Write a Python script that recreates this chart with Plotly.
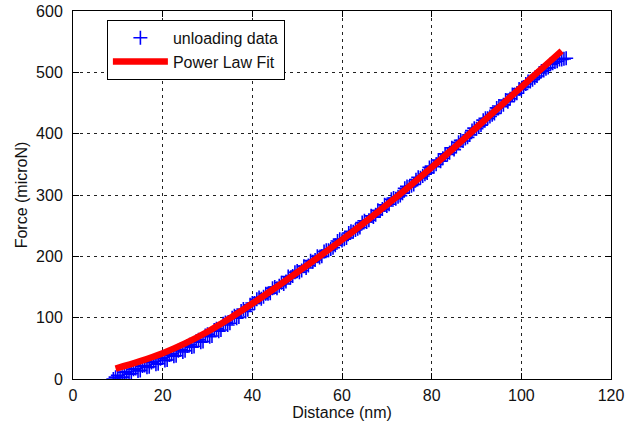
import plotly.graph_objects as go

# Measured unloading curve: indentation depth (nm) vs. force (microN)
unload_distance = [
    9, 9.5, 10, 10.5, 11, 11.5, 12, 12.5, 13, 13.5, 14, 14.5, 15, 15.5, 16, 16.5,
    17, 17.5, 18, 18.5, 19, 19.5, 20, 20.5, 21, 21.5, 22, 22.5, 23, 23.5, 24, 24.5,
    25, 25.5, 26, 26.5, 27, 27.5, 28, 28.5, 29, 29.5, 30, 30.5, 31, 31.5, 32, 32.5,
    33, 33.5, 34, 34.5, 35, 35.5, 36, 36.5, 37, 37.5, 38, 38.5, 39, 39.5, 40, 40.5,
    41, 41.5, 42, 42.5, 43, 43.5, 44, 44.5, 45, 45.5, 46, 46.5, 47, 47.5, 48, 48.5,
    49, 49.5, 50, 50.5, 51, 51.5, 52, 52.5, 53, 53.5, 54, 54.5, 55, 55.5, 56, 56.5,
    57, 57.5, 58, 58.5, 59, 59.5, 60, 60.5, 61, 61.5, 62, 62.5, 63, 63.5, 64, 64.5,
    65, 65.5, 66, 66.5, 67, 67.5, 68, 68.5, 69, 69.5, 70, 70.5, 71, 71.5, 72, 72.5,
    73, 73.5, 74, 74.5, 75, 75.5, 76, 76.5, 77, 77.5, 78, 78.5, 79, 79.5, 80, 80.5,
    81, 81.5, 82, 82.5, 83, 83.5, 84, 84.5, 85, 85.5, 86, 86.5, 87, 87.5, 88, 88.5,
    89, 89.5, 90, 90.5, 91, 91.5, 92, 92.5, 93, 93.5, 94, 94.5, 95, 95.5, 96, 96.5,
    97, 97.5, 98, 98.5, 99, 99.5, 100, 100.5, 101, 101.5, 102, 102.5, 103, 103.5,
    104, 104.5, 105, 105.5, 106, 106.5, 107, 107.5, 108, 108.5, 109, 109.5, 110,
]
unload_force = [
    0, 3, 6, 2, 3, 11, 12, 8, 9, 16, 17, 13, 14, 21, 22, 19,
    20, 27, 29, 24, 25, 33, 35, 30, 31, 39, 41, 37, 38, 46, 48, 44,
    46, 54, 56, 52, 53, 62, 64, 60, 61, 71, 73, 69, 70, 80, 82, 78,
    80, 90, 92, 88, 91, 100, 103, 99, 101, 111, 114, 110, 113, 121, 124, 124,
    130, 133, 131, 134, 139, 139, 140, 148, 150, 148, 152, 157, 155, 159, 167, 165,
    168, 174, 176, 174, 177, 184, 181, 185, 193, 191, 194, 200, 198, 200, 208, 210,
    210, 212, 214, 218, 225, 228, 226, 228, 230, 238, 241, 240, 243, 245, 247, 255,
    258, 256, 259, 266, 264, 268, 275, 274, 277, 284, 282, 285, 293, 295, 294, 297,
    299, 303, 311, 314, 313, 315, 317, 325, 329, 328, 331, 334, 336, 345, 347, 346,
    350, 357, 355, 360, 367, 366, 369, 377, 374, 379, 386, 389, 388, 392, 394, 398,
    405, 409, 408, 411, 414, 422, 425, 425, 428, 431, 433, 442, 445, 444, 447, 455,
    452, 457, 464, 464, 466, 473, 472, 476, 481, 485, 485, 488, 491, 494,
    499, 502, 503, 506, 508, 513, 515, 517, 518, 521, 521, 522, 523,
]

# Power-law fit evaluated along the unloading range
fit_distance = [9.5, 15, 20, 25, 30, 35, 40, 45, 50, 55, 60, 65, 70, 75, 80,
                85, 90, 95, 100, 105, 109]
fit_force = [17, 29, 42, 58, 77, 99, 123, 148, 174, 200, 227, 255, 284, 314, 345,
             377, 410, 443, 476, 509, 535]

x_ticks = [0, 20, 40, 60, 80, 100, 120]
y_ticks = [0, 100, 200, 300, 400, 500, 600]

FONT = "Liberation Sans, Arial, sans-serif"
TEXT = "#111111"

fig = go.Figure()
fig.add_trace(go.Scatter(
    x=unload_distance, y=unload_force, mode="markers", name="unloading data",
    marker=dict(symbol="cross-thin", size=10, color="#0000ff",
                line=dict(color="#0000ff", width=1.6)),
))
fig.add_trace(go.Scatter(
    x=fit_distance, y=fit_force, mode="lines", name="Power Law Fit",
    line=dict(color="#ff0000", width=6.5, shape="spline"),
))

axis_common = dict(
    showline=True, linecolor="black", linewidth=1, mirror="ticks",
    ticks="inside", ticklen=6, tickcolor="black", tickwidth=1,
    showgrid=True, gridcolor="#222222", gridwidth=1, griddash="3px,4px",
    zeroline=False, automargin=False,
    tickfont=dict(family=FONT, size=16, color=TEXT),
)

fig.update_xaxes(
    range=[0, 120], tickvals=x_ticks, ticktext=[str(v) for v in x_ticks],
    title=dict(text="Distance (nm)", font=dict(family=FONT, size=16, color=TEXT),
               standoff=2),
    ticklabelstandoff=2,
    **axis_common,
)
fig.update_yaxes(
    range=[0, 600], tickvals=y_ticks, ticktext=[str(v) for v in y_ticks],
    title=dict(text="Force (microN)", font=dict(family=FONT, size=16, color=TEXT),
               standoff=4),
    ticklabelstandoff=6,
    **axis_common,
)

fig.update_layout(
    width=626, height=427,
    margin=dict(l=73, r=15, t=11, b=48),
    paper_bgcolor="white", plot_bgcolor="white",
    showlegend=True,
    legend=dict(
        x=0.063, y=0.976, xanchor="left", yanchor="top",
        bgcolor="white", bordercolor="black", borderwidth=1,
        font=dict(family=FONT, size=16, color=TEXT),
        tracegroupgap=0, itemwidth=55,
    ),
)

fig.write_html("out.html")
